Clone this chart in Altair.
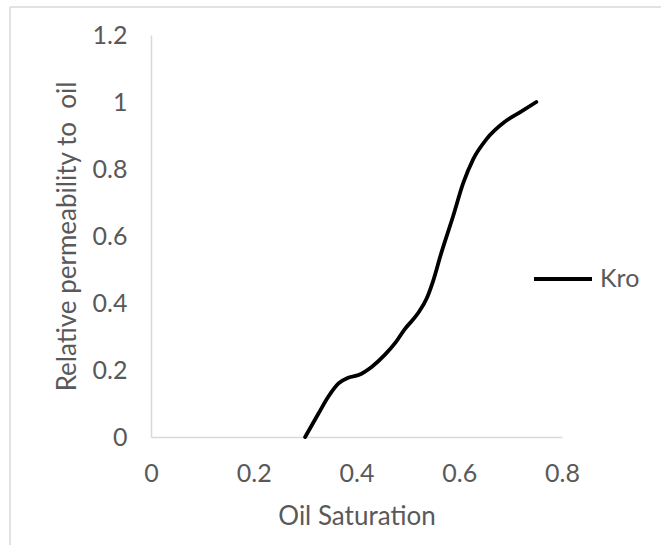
import altair as alt
import pandas as pd

# Values
oil_saturation = [0.300, 0.326, 0.345, 0.365, 0.384, 0.404, 0.430, 0.455, 0.475,
                  0.494, 0.520, 0.537, 0.550, 0.563, 0.588, 0.608, 0.627, 0.653,
                  0.688, 0.718, 0.750]
kro = [0.000, 0.070, 0.120, 0.160, 0.177, 0.185, 0.210, 0.245, 0.280,
       0.322, 0.370, 0.415, 0.470, 0.539, 0.659, 0.759, 0.829, 0.889,
       0.940, 0.969, 1.000]
series_name = ["Kro"] * len(kro)

df = pd.DataFrame({"So": oil_saturation, "Kro": kro, "series": series_name})

FONT = "Lato"
GREY = "#595959"

line = alt.Chart(df).mark_line(
    interpolate="monotone", strokeWidth=3.8, strokeCap="round", strokeJoin="round"
).encode(
    x=alt.X("So:Q", title="Oil Saturation",
            scale=alt.Scale(domain=[0, 0.8], nice=False, zero=True),
            axis=alt.Axis(values=[0, 0.2, 0.4, 0.6, 0.8], grid=False, ticks=False,
                          labelFlush=False, labelOverlap=False,
                          labelPadding=24, titlePadding=17, format="~g")),
    y=alt.Y("Kro:Q", title="Relative permeability to \u00a0oil",
            scale=alt.Scale(domain=[0, 1.2], nice=False),
            axis=alt.Axis(values=[0, 0.2, 0.4, 0.6, 0.8, 1, 1.2], grid=False, ticks=False,
                          labelFlush=False, labelOverlap=False,
                          labelPadding=24, titlePadding=12, format="~g")),
    color=alt.Color("series:N", scale=alt.Scale(range=["black"]),
                    legend=alt.Legend(title=None, orient="none", legendX=381, legendY=213,
                                      symbolType="stroke", symbolSize=3364,
                                      symbolStrokeWidth=3.8, labelFontSize=25,
                                      labelColor=GREY, labelFont=FONT, labelOffset=6)),
)

border = pd.DataFrame({"k": [0]})
left_border = alt.Chart(border).mark_rule(color="#d9d9d9", strokeWidth=1.5).encode(
    x=alt.value(-141), y=alt.value(-28), y2=alt.value(520))
top_border = alt.Chart(border).mark_rule(color="#d9d9d9", strokeWidth=1.5).encode(
    x=alt.value(-141), x2=alt.value(520), y=alt.value(-28))

chart = alt.layer(left_border, top_border, line).properties(
    width=411, height=402,
    autosize=alt.AutoSizeParams(type="none"),
    padding={"left": 151, "top": 35, "right": 99, "bottom": 108},
    background="white",
).configure_view(stroke=None).configure_axis(
    domainColor="#d9d9d9", domainWidth=1.5,
    labelFont=FONT, labelFontSize=25, labelColor=GREY,
    titleFont=FONT, titleFontSize=26, titleColor=GREY, titleFontWeight="normal",
)

chart.save("out.html", embed_options={"renderer": "svg", "actions": False})
